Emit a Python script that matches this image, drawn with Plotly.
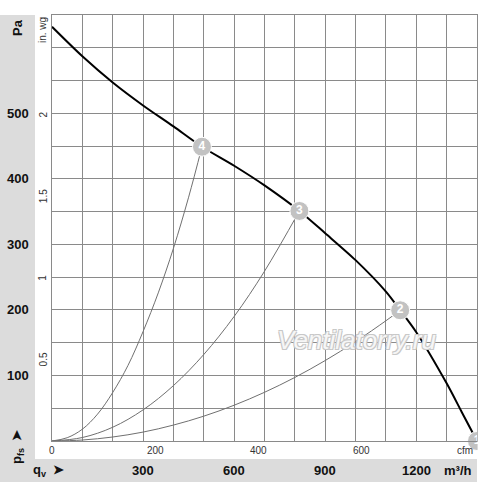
import plotly.graph_objects as go

# ---- data ----
fan_q = [0, 100, 200, 300, 400, 494, 600, 700, 815, 900, 1000, 1100, 1147, 1200, 1300, 1350, 1400]
fan_p = [632, 587, 547, 512, 480, 449, 420, 390, 351, 317, 276, 228, 199.5, 166, 88, 44, 0]

sys4_q = [0, 50, 100, 150, 200, 250, 300, 350, 400, 450, 494]
sys4_p = [0, 5, 18, 41, 74, 115, 167, 226, 294, 372, 449]
sys3_q = [0, 100, 200, 300, 400, 500, 600, 700, 815]
sys3_p = [0, 5.3, 21, 47.5, 84.5, 132, 190, 259, 351]
sys2_q = [0, 100, 200, 300, 400, 500, 600, 700, 800, 900, 1000, 1100, 1147]
sys2_p = [0, 1.5, 6.1, 13.6, 24.3, 37.9, 54.6, 74.3, 97, 122.8, 151.6, 183.5, 199.5]

op_q = [1400, 1147, 815, 494]
op_p = [0, 199.5, 351, 449]
op_labels = ["1", "2", "3", "4"]

pa_ticks = [100, 200, 300, 400, 500]
m3h_ticks = [300, 600, 900, 1200]
cfm_ticks = [0, 200, 400, 600]
inwg_ticks = ["0.5", "1", "1.5", "2"]
CFM_TO_M3H = 1.699
INWG_TO_PA = 249.09

# ---- layout geometry ----
W, H = 500, 483
ML, MR, MT, MB = 52, 23, 15, 42
PW, PH = W - ML - MR, H - MT - MB


def px(x):
    return (x - ML) / PW


def py(y):
    return (H - MB - y) / PH


FONT = "Liberation Sans, Arial, sans-serif"
fig = go.Figure()

for q, p in [(sys4_q, sys4_p), (sys3_q, sys3_p), (sys2_q, sys2_p)]:
    fig.add_trace(go.Scatter(x=q, y=p, mode="lines", line=dict(color="#707070", width=1, shape="spline"),
                             hoverinfo="skip", showlegend=False, cliponaxis=False))

fig.add_trace(go.Scatter(x=fan_q, y=fan_p, mode="lines", line=dict(color="#000000", width=2, shape="spline", smoothing=0.8),
                         showlegend=False, cliponaxis=False))

fig.add_trace(go.Scatter(x=op_q, y=op_p, mode="markers+text", text=op_labels, textposition="middle center",
                         textfont=dict(color="white", size=12, family=FONT, weight="bold"),
                         marker=dict(size=19, color="#c2c2c2", line=dict(color="white", width=1)),
                         showlegend=False, cliponaxis=False))

shapes = [
    dict(type="rect", xref="paper", yref="paper", x0=px(0), x1=px(35), y0=py(482), y1=py(15),
         fillcolor="#dcdcdc", line=dict(width=0), layer="below"),
    dict(type="rect", xref="paper", yref="paper", x0=px(35), x1=px(477), y0=py(482), y1=py(459),
         fillcolor="#dcdcdc", line=dict(width=0), layer="below"),
    dict(type="rect", xref="paper", yref="paper", x0=px(477.6), x1=px(500), y0=py(456), y1=py(420),
         fillcolor="white", line=dict(width=0), layer="above"),
]

ann = []
bold = dict(family=FONT, size=13, color="#111111", weight="bold")
small = dict(family=FONT, size=10, color="#333333")


def A(text, x, y, xref="paper", yref="paper", font=bold, angle=0):
    ann.append(dict(text=text, xref=xref, yref=yref, x=x, y=y, textangle=angle, font=font,
                    showarrow=False, xanchor="center", yanchor="middle"))


A("Pa", px(17), py(28), angle=-90)
for v in pa_ticks:
    A(str(v), px(17.5), v, yref="y")
A("p<sub>fs</sub>  ➤", px(17), py(447), angle=-90)
A("q<sub>v</sub>  ➤", px(48), py(470))
for v in m3h_ticks:
    A(str(v), v, py(470), xref="x")
A("m³/h", px(458), py(470))

A("in. wg", px(43), py(30), font=small, angle=-90)
for s in inwg_ticks:
    A(s, px(43), float(s) * INWG_TO_PA, yref="y", font=small, angle=-90)
for v in cfm_ticks:
    A(str(v), v * CFM_TO_M3H, py(450), xref="x", font=small)
A("cfm", px(465), py(450), font=small)

A("<i>Ventilatorry.ru</i>", px(356), py(340),
  font=dict(family=FONT, size=26, color="#f6f6f6",
            shadow="1px 1px 0 #c8c8c8, -1px -1px 0 #c8c8c8, 1px -1px 0 #c8c8c8, -1px 1px 0 #c8c8c8"))

grid = "#8a8a8a"
fig.update_layout(
    width=W, height=H,
    margin=dict(l=ML, r=MR, t=MT, b=MB, pad=0),
    paper_bgcolor="white", plot_bgcolor="white",
    xaxis=dict(range=[0, 1400], dtick=100, tick0=0, showticklabels=False, ticks="",
               showgrid=True, gridcolor=grid, gridwidth=1, zeroline=False,
               showline=True, mirror=True, linecolor=grid, linewidth=1, fixedrange=True),
    yaxis=dict(range=[0, 650], dtick=50, tick0=0, showticklabels=False, ticks="",
               showgrid=True, gridcolor=grid, gridwidth=1, zeroline=False,
               showline=True, mirror=True, linecolor=grid, linewidth=1, fixedrange=True),
    shapes=shapes,
    annotations=ann,
    showlegend=False,
)

fig.write_html("out.html", config={"displayModeBar": False},
               post_script="document.body.style.margin='0';document.body.style.overflow='hidden';")
